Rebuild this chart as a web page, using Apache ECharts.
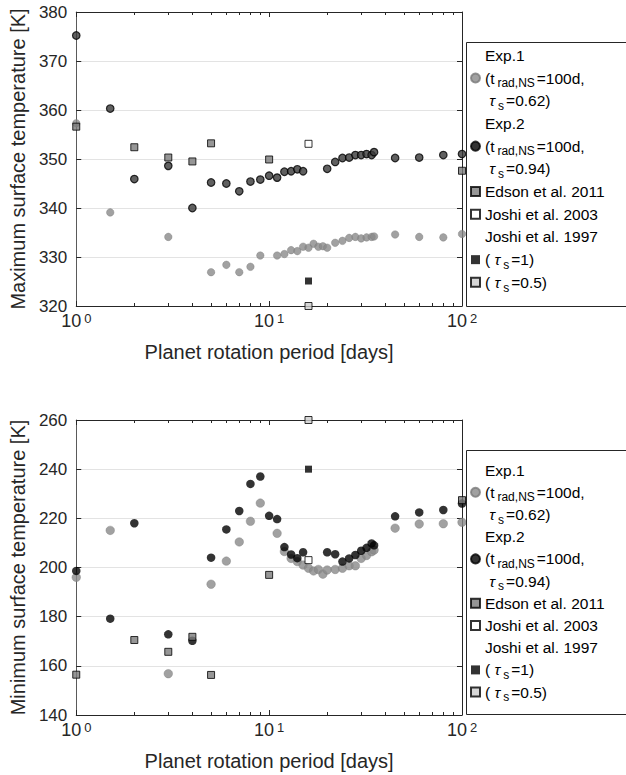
<!DOCTYPE html>
<html>
<head>
<meta charset="utf-8">
<script src="https://cdn.jsdelivr.net/npm/echarts@6/dist/echarts.min.js"></script>
<style>
html,body{margin:0;padding:0;background:#fff;}
#chart{width:626px;height:775px;}
</style>
</head>
<body>
<div id="chart"></div>
<script>
// ---------------- data ----------------
const periodsExp1 = [1, 1.5, 3, 5, 6, 7, 8, 9, 11, 12, 13, 14, 15, 16, 17, 18, 19, 20, 22, 24, 26, 28, 30, 32, 34, 35, 45, 60, 80, 100];
const maxExp1 = [357.3, 339.1, 334.1, 326.9, 328.4, 326.9, 328.0, 330.3, 330.3, 330.6, 331.4, 331.2, 332.1, 331.9, 332.7, 332.1, 332.2, 331.9, 332.9, 333.3, 333.9, 334.1, 333.8, 334.0, 334.1, 334.2, 334.6, 334.1, 334.0, 334.7];
const minExp1 = [196.0, 215.1, 156.8, 193.2, 202.6, 210.4, 218.8, 226.2, 213.9, 206.5, 203.7, 202.4, 201.0, 199.7, 198.6, 199.2, 197.3, 199.0, 199.2, 199.7, 200.7, 200.7, 203.7, 204.9, 206.4, 207.1, 216.0, 217.7, 217.8, 218.4];

const periodsExp2 = [1, 1.5, 2, 3, 4, 5, 6, 7, 8, 9, 10, 11, 12, 13, 14, 15, 20, 22, 24, 26, 28, 30, 32, 34, 35, 45, 60, 80, 100];
const maxExp2 = [375.2, 360.3, 345.9, 348.6, 340.0, 345.2, 345.0, 343.4, 345.4, 345.8, 346.6, 346.2, 347.4, 347.5, 347.9, 347.5, 348.0, 349.4, 350.2, 350.3, 350.8, 350.8, 351.0, 350.8, 351.4, 350.2, 350.3, 350.8, 351.0];
const minExp2 = [198.6, 179.2, 218.0, 172.8, 170.2, 204.0, 215.5, 223.0, 234.0, 237.0, 221.0, 219.7, 208.3, 205.3, 203.8, 206.2, 206.2, 205.4, 202.4, 203.7, 205.1, 206.8, 208.0, 209.8, 209.0, 220.8, 222.4, 223.4, 226.0];

const periodsEdson = [1, 2, 3, 4, 5, 10, 100];
const maxEdson = [356.6, 352.4, 350.3, 349.5, 353.2, 349.9, 347.6];
const minEdson = [156.4, 170.5, 165.7, 171.8, 156.3, 197.0, 227.4];

const periodsJoshi = [16];
const maxJoshi2003 = [353.1];
const minJoshi2003 = [203.0];
const maxJoshi1997t1 = [325.1];
const minJoshi1997t1 = [240.0];
const maxJoshi1997t05 = [320.0];
const minJoshi1997t05 = [260.0];

const xMajorTicks = [1, 10, 100];
const xMinorTicks = [2, 3, 4, 5, 6, 7, 8, 9, 20, 30, 40, 50, 60, 70, 80, 90];
const yRangeMax = [320, 380, 10];
const yRangeMin = [140, 260, 20];

const names = ['Exp.1', 'Exp.2', 'Edson et al. 2011', 'Joshi et al. 2003', 'Joshi et al. 1997', 'Joshi1997_t1', 'Joshi1997_t05'];

// ---------------- helpers ----------------
const FONT = '"Liberation Sans", Arial, Helvetica, sans-serif';
const AX = '#262626';
const zip = (xs, ys) => xs.map((x, i) => [x, ys[i]]);

function xAxesFor(gridIndex) {
  const base = { gridIndex, type: 'log', logBase: 10, min: 1, max: 100, splitLine: { show: false } };
  return [
    Object.assign({}, base, {
      position: 'bottom',
      axisLine: { show: true, lineStyle: { color: AX, width: 1 } },
      axisTick: { show: true, inside: true, length: 5, customValues: xMajorTicks, lineStyle: { color: AX } },
      axisLabel: {
        show: true, margin: 6, customValues: xMajorTicks,
        formatter: v => '{b|10}{s|' + Math.round(Math.log10(v)) + '}',
        rich: {
          b: { fontSize: 18, lineHeight: 14, fontFamily: FONT, color: AX, verticalAlign: 'top' },
          s: { fontSize: 13, lineHeight: 4, fontFamily: FONT, color: AX, verticalAlign: 'top', padding: [0, 0, 0, 3] }
        }
      },
      name: 'Planet rotation period [days]', nameLocation: 'middle', nameGap: 36,
      nameTextStyle: { fontSize: 20, color: AX, fontFamily: FONT }
    }),
    Object.assign({}, base, {
      position: 'bottom',
      axisLine: { show: false },
      axisTick: { show: true, inside: true, length: 3, customValues: xMinorTicks, lineStyle: { color: AX } },
      axisLabel: { show: false }
    }),
    Object.assign({}, base, {
      position: 'top',
      axisLine: { show: true, lineStyle: { color: AX, width: 1 } },
      axisTick: { show: true, inside: true, length: 5, customValues: xMajorTicks, lineStyle: { color: AX } },
      axisLabel: { show: false }
    }),
    Object.assign({}, base, {
      position: 'top',
      axisLine: { show: false },
      axisTick: { show: true, inside: true, length: 3, customValues: xMinorTicks, lineStyle: { color: AX } },
      axisLabel: { show: false }
    })
  ];
}

function yAxesFor(gridIndex, range, title) {
  const base = { gridIndex, type: 'value', min: range[0], max: range[1], interval: range[2] };
  return [
    Object.assign({}, base, {
      position: 'left',
      axisLine: { show: true, lineStyle: { color: '#5a5a5a', width: 1 } },
      axisTick: { show: true, inside: true, length: 5, lineStyle: { color: AX } },
      axisLabel: { fontSize: 17, lineHeight: 12, color: AX, fontFamily: FONT, margin: 9 },
      splitLine: { show: true, lineStyle: { color: '#e3e3e3', width: 1 } },
      name: title, nameLocation: 'middle', nameGap: 44,
      nameTextStyle: { fontSize: 20, color: AX, fontFamily: FONT }
    }),
    Object.assign({}, base, {
      position: 'right',
      axisLine: { show: true, lineStyle: { color: AX, width: 1 } },
      axisTick: { show: true, inside: true, length: 5, lineStyle: { color: AX } },
      axisLabel: { show: false },
      splitLine: { show: false }
    })
  ];
}

function seriesFor(xi, yi, top) {
  const d1 = top ? maxExp1 : minExp1;
  const d2 = top ? maxExp2 : minExp2;
  const de = top ? maxEdson : minEdson;
  const dj3 = top ? maxJoshi2003 : minJoshi2003;
  const dj1 = top ? maxJoshi1997t1 : minJoshi1997t1;
  const dj05 = top ? maxJoshi1997t05 : minJoshi1997t05;
  const common = { type: 'scatter', xAxisIndex: xi, yAxisIndex: yi, clip: false, silent: true, z: 2 };
  return [
    Object.assign({}, common, { name: names[0], data: zip(periodsExp1, d1), symbol: 'circle', symbolSize: top ? 7.5 : 8.5,
      itemStyle: { color: '#8a8a8a', borderColor: '#7a7a7a', borderWidth: 0.5 } }),
    Object.assign({}, common, { name: names[1], data: zip(periodsExp2, d2), symbol: 'circle', symbolSize: top ? 7.5 : 8.5,
      itemStyle: top ? { color: '#383838', borderColor: '#000', borderWidth: 1.2 } : { color: '#000', borderColor: '#000', borderWidth: 0 } }),
    Object.assign({}, common, { name: names[2], data: zip(periodsEdson, de), symbol: 'rect', symbolSize: 7,
      itemStyle: { color: '#7c7c7c', borderColor: '#000', borderWidth: 1 } }),
    Object.assign({}, common, { name: names[3], data: zip(periodsJoshi, dj3), symbol: 'rect', symbolSize: 7,
      itemStyle: { color: '#fff', borderColor: '#000', borderWidth: 1 } }),
    Object.assign({}, common, { name: names[4], data: [], symbol: 'none' }),
    Object.assign({}, common, { name: names[5], data: zip(periodsJoshi, dj1), symbol: 'rect', symbolSize: 7,
      itemStyle: { color: '#000', borderColor: '#000', borderWidth: 0 } }),
    Object.assign({}, common, { name: names[6], data: zip(periodsJoshi, dj05), symbol: 'rect', symbolSize: 7,
      itemStyle: { color: '#cdcdcd', borderColor: '#000', borderWidth: 1 } })
  ];
}

const legendText = {
  'Exp.1': 'Exp.1\n(t{sub|rad,NS}=100d,\n {tau|τ}{sub|s}=0.62)',
  'Exp.2': 'Exp.2\n(t{sub|rad,NS}=100d,\n {tau|τ}{sub|s}=0.94)',
  'Edson et al. 2011': 'Edson et al. 2011',
  'Joshi et al. 2003': 'Joshi et al. 2003',
  'Joshi et al. 1997': 'Joshi et al. 1997',
  'Joshi1997_t1': '( {tau|τ}{sub|s}=1)',
  'Joshi1997_t05': '( {tau|τ}{sub|s}=0.5)'
};

function legendFor(top, lh) {
  return {
    show: true, orient: 'vertical', left: 470, top: top, padding: 0, itemGap: 0,
    itemWidth: 9, itemHeight: 9, selectedMode: false, z: 5,
    data: [
      { name: names[0] },
      { name: names[1], itemStyle: { color: '#000', borderColor: '#000' } },
      { name: names[2] },
      { name: names[3] },
      { name: names[4], icon: 'none' },
      { name: names[5] },
      { name: names[6] }
    ],
    formatter: n => legendText[n],
    textStyle: {
      fontSize: 15.5, lineHeight: lh, color: '#000', fontFamily: FONT,
      rich: {
        sub: { fontSize: 12, lineHeight: 6, verticalAlign: 'bottom', fontFamily: FONT, color: '#000', padding: [0, 2, 0, 3] },
        tau: { fontSize: 15.5, lineHeight: lh, fontStyle: 'italic', fontFamily: FONT, color: '#000' }
      }
    }
  };
}

const option = {
  animation: false,
  backgroundColor: '#fff',
  textStyle: { fontFamily: FONT },
  grid: [
    { left: 73, top: 12, width: 389, height: 294 },
    { left: 73, top: 420, width: 389, height: 295 }
  ],
  xAxis: xAxesFor(0).concat(xAxesFor(1)),
  yAxis: yAxesFor(0, yRangeMax, 'Maximum surface temperature [K]').concat(yAxesFor(1, yRangeMin, 'Minimum surface temperature [K]')),
  legend: [legendFor(44, 22.7), legendFor(459, 22.2)],
  graphic: { elements: [
    { type: 'rect', z: 3, silent: true, shape: { x: 466.5, y: 42.5, width: 200, height: 264 }, style: { fill: '#fff', stroke: AX, lineWidth: 1 } },
    { type: 'rect', z: 3, silent: true, shape: { x: 466.5, y: 450.5, width: 200, height: 264 }, style: { fill: '#fff', stroke: AX, lineWidth: 1 } }
  ] },
  series: seriesFor(0, 0, true).concat(seriesFor(4, 2, false))
};

const chart = echarts.init(document.getElementById('chart'), null, { renderer: 'svg', width: 626, height: 775 });
chart.setOption(option);
</script>
</body>
</html>
